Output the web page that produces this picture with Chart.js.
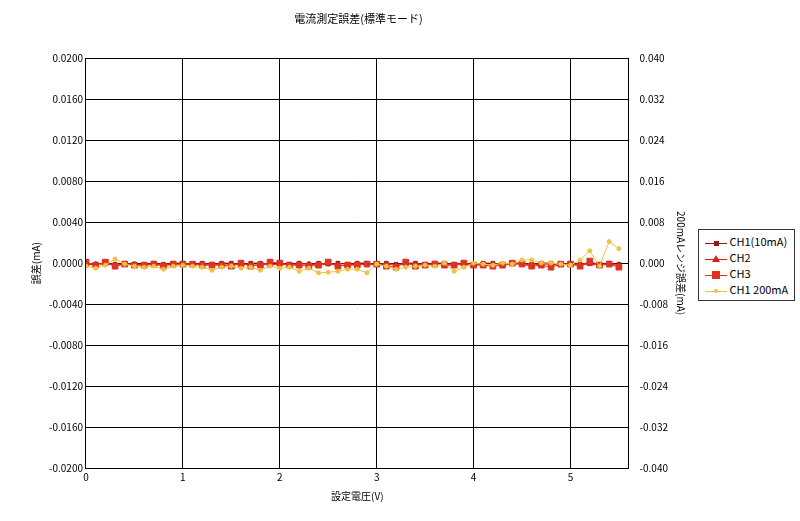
<!DOCTYPE html>
<html lang="ja">
<head>
<meta charset="UTF-8">
<script src="https://cdn.jsdelivr.net/npm/chart.js"></script>
<style>
  body { margin: 0; background: #fff; font-family: "Noto Sans CJK JP", sans-serif; }
  #wrap { position: relative; width: 800px; height: 521px; }
  #legend { position: absolute; left: 698px; top: 229px; border: 1px solid #333; padding: 3px 6px; font-size: 11px; line-height: 16px; background: #fff; }
  #legend span.k { display: inline-block; width: 22px; vertical-align: middle; position: relative; height: 10px; }
</style>
</head>
<body>
<div id="wrap">
  <canvas id="c" width="800" height="521"></canvas>
  <div id="legend"></div>
</div>
<script>
const volts = [0,0.1,0.2,0.3,0.4,0.5,0.6,0.7,0.8,0.9,1.0,1.1,1.2,1.3,1.4,1.5,1.6,1.7,1.8,1.9,2.0,2.1,2.2,2.3,2.4,2.5,2.6,2.7,2.8,2.9,3.0,3.1,3.2,3.3,3.4,3.5,3.6,3.7,3.8,3.9,4.0,4.1,4.2,4.3,4.4,4.5,4.6,4.7,4.8,4.9,5.0,5.1,5.2,5.3,5.4,5.5];
const ch1 = [-0.0001,-0.0001,0.0000,-0.0001,0.0000,-0.0001,-0.0001,0.0000,-0.0001,0.0000,0.0000,-0.0001,0.0000,-0.0001,0.0000,0.0000,-0.0001,0.0000,0.0000,-0.0001,0.0000,-0.0001,0.0000,-0.0001,0.0000,-0.0001,0.0000,-0.0001,0.0000,0.0000,-0.0001,0.0000,-0.0001,0.0000,0.0000,-0.0001,0.0000,0.0000,-0.0001,0.0000,-0.0001,0.0000,0.0000,-0.0001,0.0000,0.0000,-0.0001,0.0000,0.0000,-0.0001,0.0000,-0.0001,0.0000,-0.0001,0.0000,-0.0001];
const ch2 = [-0.0002,-0.0001,-0.0001,-0.0002,-0.0001,-0.0001,-0.0002,-0.0001,-0.0002,-0.0001,-0.0001,-0.0002,-0.0001,-0.0002,-0.0001,-0.0001,-0.0002,-0.0001,-0.0001,-0.0002,-0.0001,-0.0002,-0.0001,-0.0001,-0.0002,-0.0001,-0.0002,-0.0002,-0.0001,-0.0001,-0.0002,-0.0001,-0.0002,-0.0001,-0.0001,-0.0002,-0.0001,-0.0001,-0.0002,-0.0001,-0.0002,-0.0001,-0.0001,-0.0002,-0.0001,-0.0001,-0.0002,-0.0001,-0.0001,-0.0002,-0.0001,-0.0002,-0.0001,-0.0002,-0.0001,-0.0002];
const ch3 = [0.0001,-0.0002,0.0001,-0.0003,-0.0001,-0.0002,-0.0002,-0.0001,-0.0003,-0.0001,-0.0001,-0.0001,-0.0002,-0.0002,-0.0002,-0.0003,0.0000,-0.0003,-0.0002,0.0001,0.0000,-0.0002,-0.0002,-0.0003,-0.0002,0.0001,-0.0003,-0.0002,-0.0002,-0.0001,-0.0001,-0.0003,-0.0004,0.0001,-0.0003,-0.0002,-0.0001,-0.0002,-0.0002,0.0000,-0.0002,-0.0002,-0.0003,-0.0002,0.0000,-0.0001,-0.0003,-0.0002,-0.0004,-0.0001,-0.0001,-0.0003,0.0002,-0.0002,-0.0001,-0.0004];
const ch1_200 = [-0.0006,-0.0010,-0.0004,0.0008,-0.0002,-0.0006,-0.0008,-0.0006,-0.0012,-0.0006,-0.0004,-0.0006,-0.0008,-0.0014,-0.0008,-0.0006,-0.0010,-0.0008,-0.0014,-0.0006,-0.0010,-0.0008,-0.0016,-0.0010,-0.0019,-0.0018,-0.0016,-0.0012,-0.0012,-0.0019,-0.0002,-0.0006,-0.0012,-0.0008,-0.0006,-0.0004,-0.0006,0.0000,-0.0016,-0.0008,0.0000,-0.0002,-0.0004,0.0000,-0.0002,0.0006,0.0006,0.0000,0.0000,-0.0002,-0.0004,0.0006,0.0024,-0.0006,0.0042,0.0028];
const leftTicks = [-0.02,-0.016,-0.012,-0.008,-0.004,0,0.004,0.008,0.012,0.016,0.02];
const rightTicks = [-0.04,-0.032,-0.024,-0.016,-0.008,0,0.008,0.016,0.024,0.032,0.04];
const xTicks = [0,1,2,3,4,5];

const series = [
  { label: 'CH1(10mA)', data: ch1, color: '#8b1a1a', style: 'rect', r: 2.5, axis: 'y' },
  { label: 'CH2', data: ch2, color: '#d02020', style: 'triangle', r: 3, axis: 'y' },
  { label: 'CH3', data: ch3, color: '#dd3322', style: 'rect', r: 4, axis: 'y' },
  { label: 'CH1  200mA', data: ch1_200, color: '#f0c040', style: 'circle', r: 2, axis: 'y2' }
];

const font = { family: '"Noto Sans CJK JP", sans-serif', size: 10 };

new Chart(document.getElementById('c'), {
  type: 'line',
  data: {
    datasets: series.slice().reverse().map(s => ({
      label: s.label,
      data: volts.map((v, i) => ({ x: v, y: s.data[i] })),
      borderColor: s.color, backgroundColor: s.color,
      borderWidth: 1, pointStyle: s.style, pointRadius: s.r,
      yAxisID: s.axis, tension: 0
    }))
  },
  options: {
    responsive: false, animation: false,
    layout: { padding: { left: 26, right: 109, top: 8, bottom: 15 } },
    plugins: {
      legend: { display: false }, tooltip: { enabled: false },
      title: { display: true, text: '電流測定誤差(標準モード)', color: '#000', font: { ...font, size: 11, weight: 'normal' }, padding: { top: 4, bottom: 33 } }
    },
    scales: {
      x: {
        type: 'linear', min: 0, max: 5.6,
        afterBuildTicks: s => { s.ticks = xTicks.map(v => ({ value: v })); },
        ticks: { color: '#000', font, maxRotation: 0 },
        grid: { color: '#000', drawTicks: false },
        border: { color: '#000' },
        title: { display: true, text: '設定電圧(V)', color: '#000', font }
      },
      y: {
        min: -0.02, max: 0.02,
        afterBuildTicks: s => { s.ticks = leftTicks.map(v => ({ value: v })); },
        ticks: { color: '#000', font, callback: v => v.toFixed(4) },
        grid: { color: '#000', drawTicks: false },
        border: { color: '#000' },
        title: { display: true, text: '誤差(mA)', color: '#000', font }
      },
      y2: {
        position: 'right', min: -0.04, max: 0.04,
        afterBuildTicks: s => { s.ticks = rightTicks.map(v => ({ value: v })); },
        ticks: { color: '#000', font, callback: v => v.toFixed(3) },
        grid: { display: false },
        border: { color: '#000' },
        title: { display: true, text: '200mAレンジ誤差(mA)', color: '#000', font }
      }
    }
  }
});

const lg = document.getElementById('legend');
series.forEach(s => {
  const mark = s.style === 'triangle'
    ? `<span style="position:absolute;left:7px;top:1px;width:0;height:0;border-left:4px solid transparent;border-right:4px solid transparent;border-bottom:7px solid ${s.color}"></span>`
    : `<span style="position:absolute;left:${11 - s.r}px;top:${5 - s.r}px;width:${s.r * 2}px;height:${s.r * 2}px;background:${s.color};border-radius:${s.style === 'circle' ? '50%' : '0'}"></span>`;
  lg.innerHTML += `<div><span class="k"><span style="position:absolute;left:0;right:0;top:5px;height:1px;background:${s.color}"></span>${mark}</span> ${s.label}</div>`;
});
</script>
</body>
</html>
